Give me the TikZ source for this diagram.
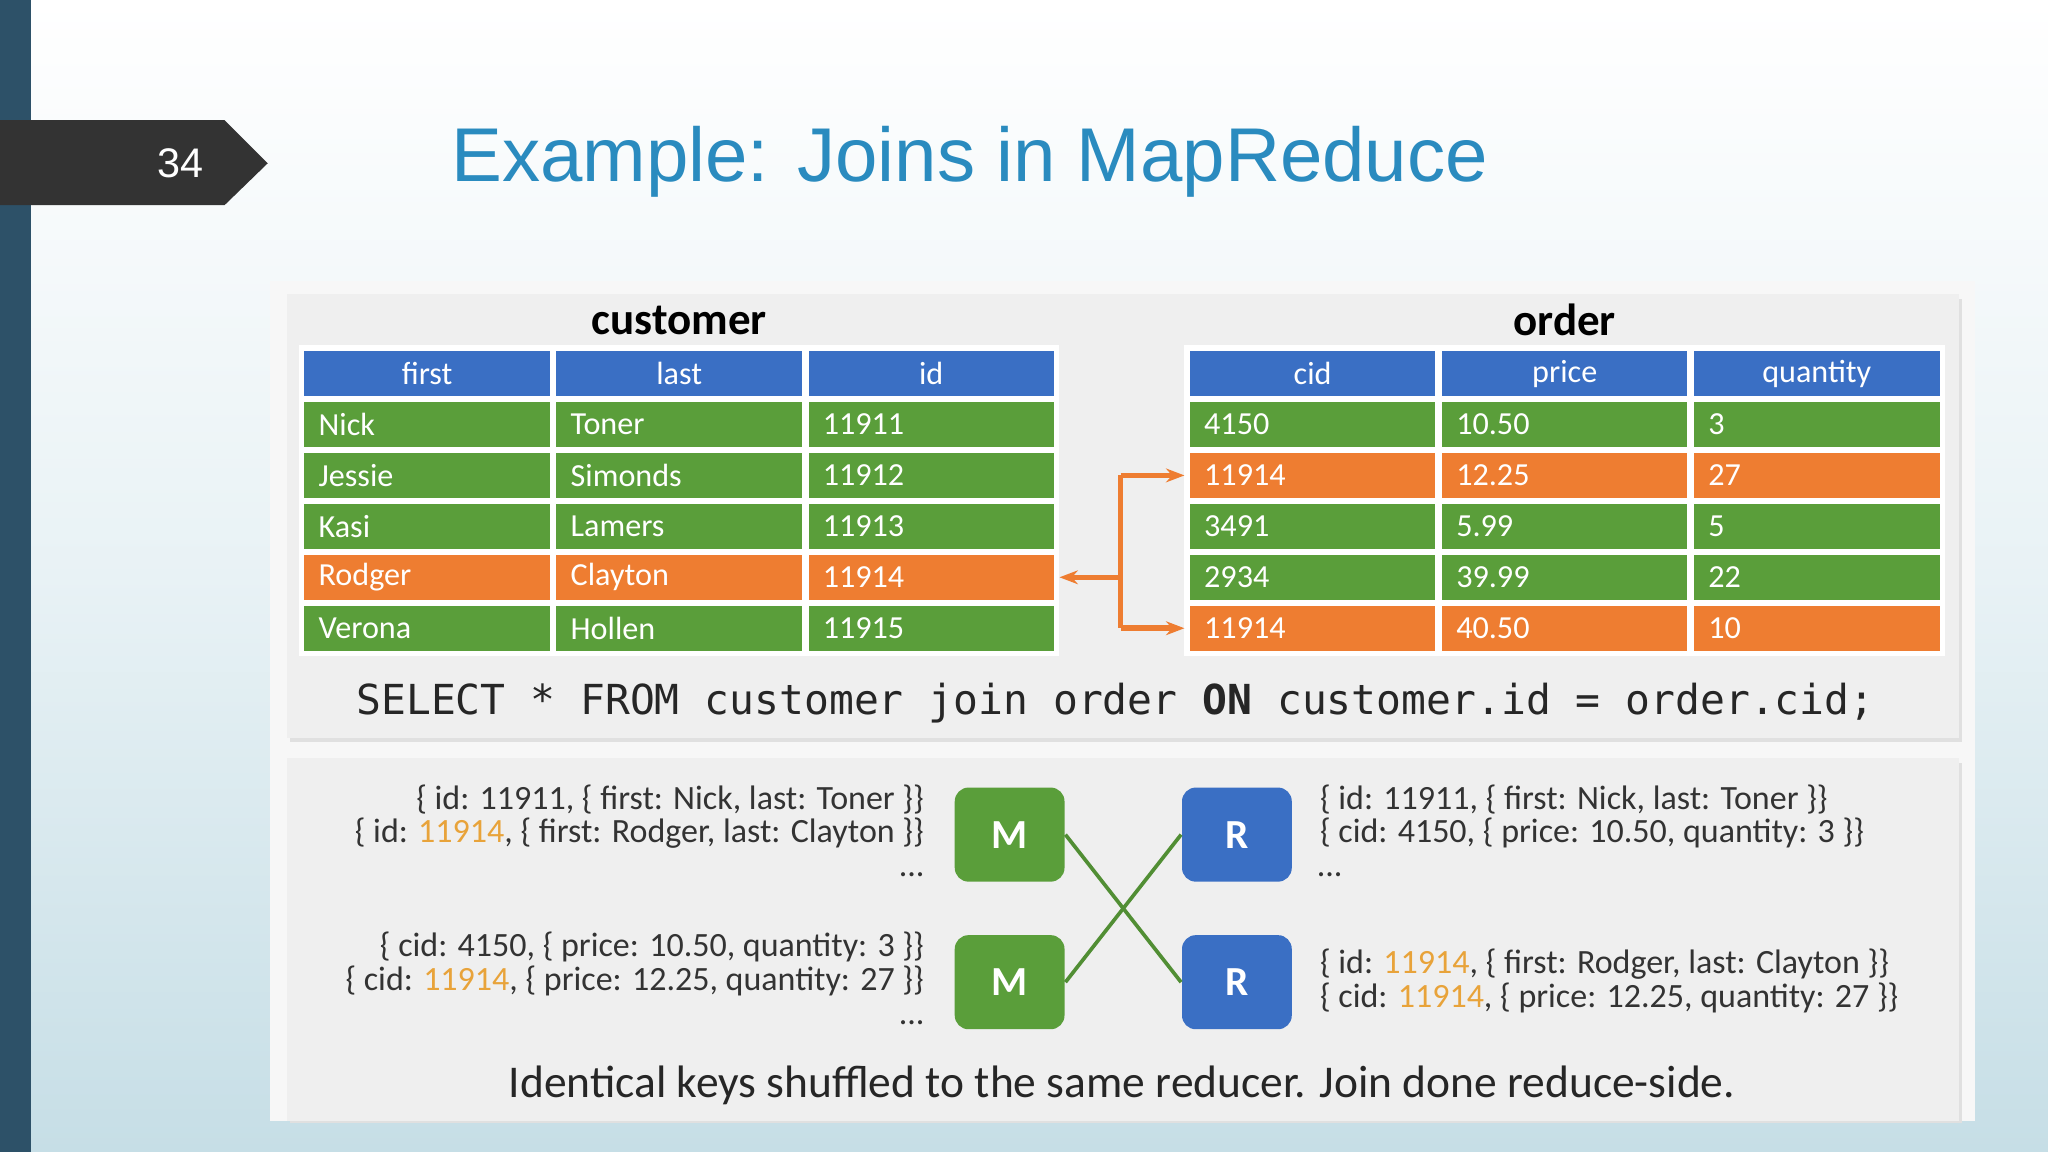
\documentclass[tikz,border=0pt]{standalone}
\usepackage{fontspec}
\setmainfont{Carlito}
\newfontfamily\titlefont{Liberation Sans}
\newfontfamily\monofont{DejaVu Sans Mono}
\usetikzlibrary{arrows.meta}
\definecolor{barcol}{HTML}{2D5168}
\definecolor{bgblue}{HTML}{C6DEE6}
\definecolor{titleblue}{HTML}{2A8BBF}
\definecolor{hdrblue}{HTML}{3A6FC4}
\definecolor{rowgreen}{HTML}{5A9E3A}
\definecolor{roworange}{HTML}{EE7D31}
\definecolor{panelgray}{HTML}{EFEFEF}
\definecolor{keyorange}{HTML}{E8A33A}
\tikzset{
  cell/.style={draw=white,line width=1.2pt,minimum width=1.92cm,minimum height=0.39cm,inner sep=0pt,text=white,font=\fontsize{7}{8}\selectfont},
  hdr/.style={cell,fill=hdrblue,align=center},
  grn/.style={cell,fill=rowgreen,text width=1.66cm,align=left},
  org/.style={cell,fill=roworange,text width=1.66cm,align=left},
  mr/.style={rounded corners=3pt,minimum width=0.84cm,minimum height=0.72cm,inner sep=0pt,text=white,font=\fontsize{9}{10}\bfseries\selectfont},
  rec/.style={inner sep=0pt,font=\fontsize{7.4}{9}\selectfont,text=black!80},
  link/.style={draw=roworange,line width=1.2pt},
  cross/.style={draw=rowgreen!90!black,line width=0.8pt}
}
\newcommand{\kk}[1]{\textcolor{keyorange}{#1}}
\begin{document}
\begin{tikzpicture}[x=0.01cm,y=-0.01cm]
\useasboundingbox (0,0) rectangle (1568,882);
\shade[top color=white,bottom color=bgblue,middle color=white!60!bgblue] (0,0) rectangle (1568,882);
\fill[barcol] (0,0) rectangle (24,882);
\fill[black!80] (0,92) -- (172,92) -- (205,125) -- (172,157) -- (0,157) -- cycle;
\node[text=white,font=\titlefont\fontsize{9}{10}\selectfont] (pg) at (138,125) {34};
\node[text=titleblue,font=\titlefont\fontsize{16.6}{18}\selectfont,anchor=west] (title) at (333,124) {Example: Joins in MapReduce};
% image panel
\fill[white!97!black] (207,215) rectangle (1512,858);
\fill[black!12] (222,229) rectangle (1502,568);
\fill[panelgray] (220,225) rectangle (1500,565);
\fill[black!12] (222,584) rectangle (1502,860);
\fill[panelgray] (220,580) rectangle (1500,858);
\node[font=\fontsize{9.8}{11}\bfseries\selectfont] (cust) at (520,245) {customer};
\node[font=\fontsize{9.8}{11}\bfseries\selectfont] (ord) at (1198,245) {order};
% customer table
\node[hdr] (cf) at (327,286) {first};
\node[hdr] (cl) at (520,286) {last};
\node[hdr] (ci) at (713,286) {id};
\node[grn] (c1a) at (327,325) {Nick};   \node[grn] (c1b) at (520,325) {Toner};   \node[grn] (c1c) at (713,325) {11911};
\node[grn] (c2a) at (327,364) {Jessie}; \node[grn] (c2b) at (520,364) {Simonds}; \node[grn] (c2c) at (713,364) {11912};
\node[grn] (c3a) at (327,403) {Kasi};   \node[grn] (c3b) at (520,403) {Lamers};  \node[grn] (c3c) at (713,403) {11913};
\node[org] (c4a) at (327,442) {Rodger}; \node[org] (c4b) at (520,442) {Clayton}; \node[org] (c4c) at (713,442) {11914};
\node[grn] (c5a) at (327,481) {Verona}; \node[grn] (c5b) at (520,481) {Hollen};  \node[grn] (c5c) at (713,481) {11915};
% order table
\node[hdr] (oc) at (1005,286) {cid};
\node[hdr] (op) at (1198,286) {price};
\node[hdr] (oq) at (1391,286) {quantity};
\node[grn] (o1a) at (1005,325) {4150};  \node[grn] (o1b) at (1198,325) {10.50}; \node[grn] (o1c) at (1391,325) {3};
\node[org] (o2a) at (1005,364) {11914}; \node[org] (o2b) at (1198,364) {12.25}; \node[org] (o2c) at (1391,364) {27};
\node[grn] (o3a) at (1005,403) {3491};  \node[grn] (o3b) at (1198,403) {5.99};  \node[grn] (o3c) at (1391,403) {5};
\node[grn] (o4a) at (1005,442) {2934};  \node[grn] (o4b) at (1198,442) {39.99}; \node[grn] (o4c) at (1391,442) {22};
\node[org] (o5a) at (1005,481) {11914}; \node[org] (o5b) at (1198,481) {40.50}; \node[org] (o5c) at (1391,481) {10};
% join arrows
\coordinate (jt) at (858,364);
\coordinate (jm) at (858,442);
\coordinate (jb) at (858,481);
\draw[link] (jt) -- (jb);
\draw[link,-{Stealth[length=4pt]}] (jt) -- (o2a.west);
\draw[link,-{Stealth[length=4pt]}] (jb) -- (o5a.west);
\draw[link,-{Stealth[length=4pt]}] (jm) -- (c4c.east);
\node[font=\monofont\fontsize{9}{10}\selectfont,text=black!85] (sql) at (854,538) {SELECT * FROM customer join order \textbf{ON} customer.id = order.cid;};
% map reduce
\node[mr,fill=rowgreen] (m1) at (773,639) {M};
\node[mr,fill=rowgreen] (m2) at (773,752) {M};
\node[mr,fill=hdrblue] (r1) at (947,639) {R};
\node[mr,fill=hdrblue] (r2) at (947,752) {R};
\draw[cross] (m1.east) -- (r2.west);
\draw[cross] (m2.east) -- (r1.west);
\node[rec,anchor=east] (l1) at (708,612) {\{ id: 11911, \{ first: Nick, last: Toner \}\}};
\node[rec,anchor=east] (l2) at (708,638) {\{ id: \kk{11914}, \{ first: Rodger, last: Clayton \}\}};
\node[rec] (l3) at (698,670) {...};
\node[rec,anchor=east] (l4) at (708,725) {\{ cid: 4150, \{ price: 10.50, quantity: 3 \}\}};
\node[rec,anchor=east] (l5) at (708,751) {\{ cid: \kk{11914}, \{ price: 12.25, quantity: 27 \}\}};
\node[rec] (l6) at (698,783) {...};
\node[rec,anchor=west] (q1) at (1010,612) {\{ id: 11911, \{ first: Nick, last: Toner \}\}};
\node[rec,anchor=west] (q2) at (1010,638) {\{ cid: 4150, \{ price: 10.50, quantity: 3 \}\}};
\node[rec] (q3) at (1018,670) {...};
\node[rec,anchor=west] (q4) at (1010,738) {\{ id: \kk{11914}, \{ first: Rodger, last: Clayton \}\}};
\node[rec,anchor=west] (q5) at (1010,764) {\{ cid: \kk{11914}, \{ price: 12.25, quantity: 27 \}\}};
\node[font=\fontsize{9.9}{11}\selectfont,text=black!85] (cap) at (859,831) {Identical keys shuffled to the same reducer. Join done reduce-side.};
\end{tikzpicture}
\end{document}
